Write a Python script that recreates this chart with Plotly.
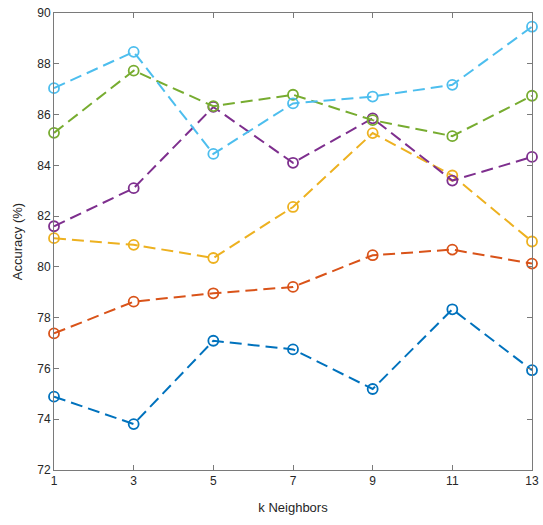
import plotly.graph_objects as go

k = [1, 3, 5, 7, 9, 11, 13]
s1 = [74.89, 73.81, 77.09, 76.75, 75.19, 78.33, 75.93]
s2 = [77.38, 78.63, 78.96, 79.21, 80.46, 80.68, 80.13]
s3 = [81.13, 80.87, 80.35, 82.36, 85.27, 83.60, 81.00]
s4 = [81.60, 83.10, 86.30, 84.10, 85.85, 83.40, 84.33]
s5 = [85.28, 87.73, 86.33, 86.78, 85.78, 85.15, 86.74]
s6 = [87.04, 88.47, 84.45, 86.44, 86.71, 87.17, 89.46]
series = [s1, s2, s3, s4, s5, s6]
colors = ["#0072BD", "#D95319", "#EDB120", "#7E2F8E", "#77AC30", "#4DBEEE"]

fig = go.Figure()
for s, c in zip(series, colors):
    fig.add_trace(go.Scatter(
        x=k, y=s, mode="lines+markers",
        line=dict(color=c, width=2, dash="12px,6px"),
        marker=dict(symbol="circle-open", size=10, color=c, line=dict(width=1.8, color=c)),
        showlegend=False, cliponaxis=False))

axcol = "#262626"
linecol = "#7a7a7a"
font = "Liberation Sans, Arial, sans-serif"
tickfont = dict(family=font, size=12, color=axcol)
fig.update_layout(
    width=543, height=525, plot_bgcolor="white", paper_bgcolor="white",
    margin=dict(l=54, r=11, t=13, b=55),
    xaxis=dict(range=[1, 13], tickvals=k, ticks="inside", ticklen=5, tickcolor=linecol,
               showline=True, linecolor=linecol, linewidth=1, mirror="ticks", showgrid=False,
               zeroline=False, tickfont=tickfont, ticklabeloverflow="allow", automargin=False,
               title=dict(text="k Neighbors", font=dict(family=font, size=13, color=axcol), standoff=15)),
    yaxis=dict(range=[72, 90], dtick=2, ticks="inside", ticklen=5, tickcolor=linecol,
               showline=True, linecolor=linecol, linewidth=1, mirror="ticks", showgrid=False,
               zeroline=False, tickfont=tickfont, ticklabeloverflow="allow", automargin=False,
               title=dict(text="Accuracy (%)", font=dict(family=font, size=13, color=axcol), standoff=11)),
)
fig.write_html("out.html", config={"displayModeBar": False},
               post_script="document.body.style.margin='0px';document.body.style.overflow='hidden';")
